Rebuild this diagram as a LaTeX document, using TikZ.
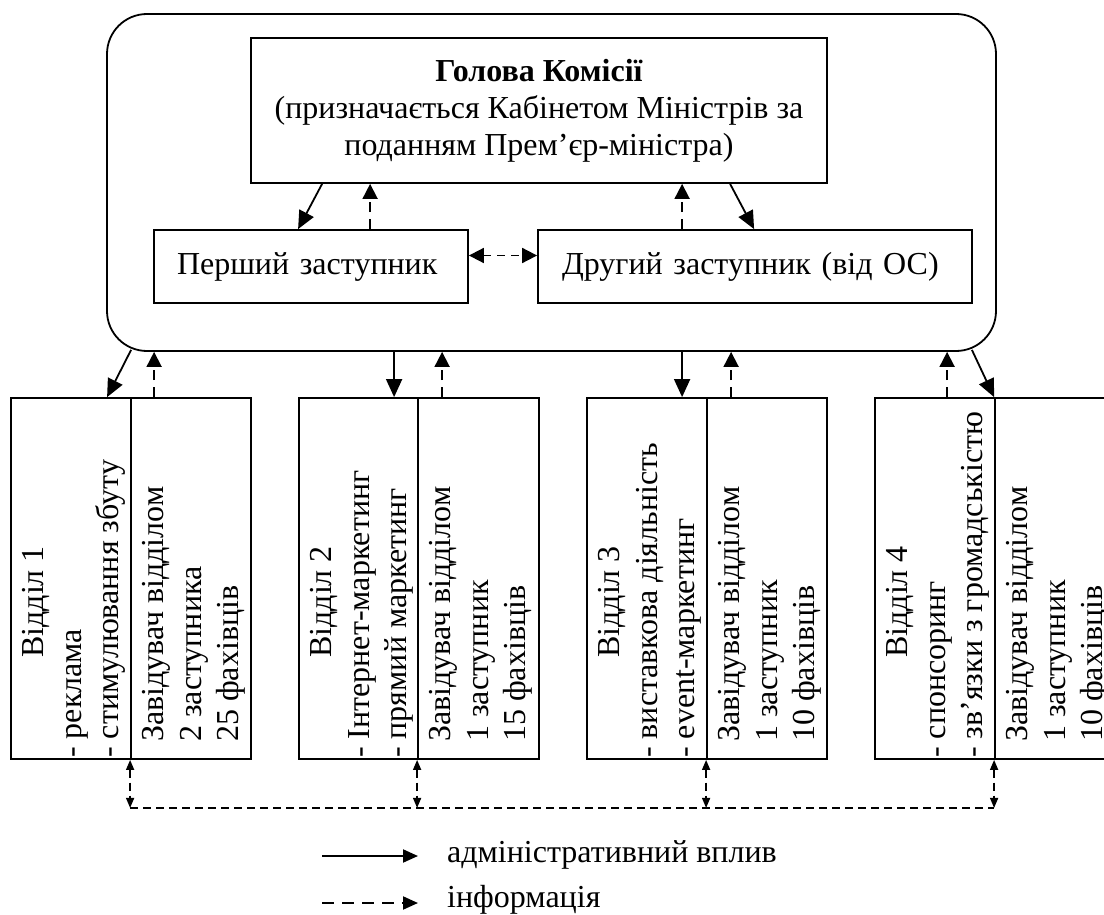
\documentclass[tikz,border=0pt]{standalone}
\usepackage{fontspec}
\setmainfont{Liberation Serif}
\usetikzlibrary{arrows.meta,calc}
\begin{document}
\begin{tikzpicture}[x=1pt,y=-1pt,font=\fontsize{32}{37}\selectfont,
  frame/.style={draw,line width=1.8pt,inner sep=0pt},
  col/.style={frame,minimum height=361pt},
  vt/.style={rotate=90,anchor=base west,inner sep=0pt},
  adm/.style={line width=1.8pt,-{Triangle[length=18pt,width=16pt]}},
  inf/.style={line width=1.8pt,dash pattern=on 10pt off 7pt,-{Triangle[length=15pt,width=15pt]}},
  infd/.style={line width=1.8pt,dash pattern=on 8pt off 6pt,{Triangle[length=15pt,width=15pt]}-{Triangle[length=15pt,width=15pt]}},
  infs/.style={line width=1.6pt,dash pattern=on 8pt off 5pt,{Triangle[length=10pt,width=8pt]}-{Triangle[length=10pt,width=8pt]}},
  infl/.style={line width=1.6pt,dash pattern=on 8pt off 5pt},
  legtext/.style={anchor=base west,inner sep=0pt}]
\clip (0,0) rectangle (1104,915);

% top block
\node[frame,rounded corners=40pt,minimum width=889pt,minimum height=337pt] (outer) at (551.5,182.5) {};
\node[frame,minimum width=576pt,minimum height=145pt,align=center] (head) at (539,110.5)
  {\textbf{Голова Комісії}\\(призначається Кабінетом Міністрів за\\поданням Прем’єр-міністра)};
\node[frame,minimum height=73pt,text width=268pt,inner xsep=23pt,align=left] (p1) at (311,266.5) {Перший заступник};
\node[frame,minimum height=73pt,text width=386pt,inner xsep=24pt,align=left] (p2) at (755,266.5) {Другий заступник (від ОС)};

\draw[adm] ($(head.south west)+(72,0)$) -- ($(p1.north west)+(145,0)$);
\draw[inf] ($(p1.north west)+(217,0)$) -- ($(head.south west)+(120,0)$);
\draw[inf] ($(p2.north west)+(145,0)$) -- ($(head.south west)+(432,0)$);
\draw[adm] ($(head.south west)+(480,0)$) -- ($(p2.north west)+(217,0)$);
\draw[infd] ($(p1.east)+(0,-11)$) -- ($(p2.west)+(0,-11)$);

% departments
\node[col,minimum width=120pt] (b1l) at (71,578.5) {};
\node[col,minimum width=120pt] (b1r) at (191,578.5) {};
\node[col,minimum width=119pt] (b2l) at (358.5,578.5) {};
\node[col,minimum width=121pt] (b2r) at (478.5,578.5) {};
\node[col,minimum width=120pt] (b3l) at (647,578.5) {};
\node[col,minimum width=120pt] (b3r) at (767,578.5) {};
\node[col,minimum width=120pt] (b4l) at (935,578.5) {};
\node[col,minimum width=120pt] (b4r) at (1055,578.5) {};

\node[vt] (t1a) at (43,658) {Відділ 1};
\node[vt] (t1b) at (81,758) {- реклама};
\node[vt] (t1c) at (118,758) {- стимулювання збуту};
\node[vt] (t1d) at (163,742) {Завідувач відділом};
\node[vt] (t1e) at (201,742) {2 заступника};
\node[vt] (t1f) at (238,742) {25 фахівців};

\node[vt] (t2a) at (331,658) {Відділ 2};
\node[vt] (t2b) at (369,758) {- Інтернет-маркетинг};
\node[vt] (t2c) at (406,758) {- прямий маркетинг};
\node[vt] (t2d) at (450,742) {Завідувач відділом};
\node[vt] (t2e) at (488,742) {1 заступник};
\node[vt] (t2f) at (525,742) {15 фахівців};

\node[vt] (t3a) at (619,658) {Відділ 3};
\node[vt] (t3b) at (657,758) {- виставкова діяльність};
\node[vt] (t3c) at (694,758) {- event-маркетинг};
\node[vt] (t3d) at (739,742) {Завідувач відділом};
\node[vt] (t3e) at (777,742) {1 заступник};
\node[vt] (t3f) at (814,742) {10 фахівців};

\node[vt] (t4a) at (907,658) {Відділ 4};
\node[vt] (t4b) at (945,758) {- спонсоринг};
\node[vt] (t4c) at (982,758) {- зв’язки з громадськістю};
\node[vt] (t4d) at (1027,742) {Завідувач відділом};
\node[vt] (t4e) at (1065,742) {1 заступник};
\node[vt] (t4f) at (1102,742) {10 фахівців};

% links outer block <-> departments
\draw[adm] ($(outer.south west)+(25,-2)$) -- ($(b1l.north west)+(97,0)$);
\draw[inf] ($(b1r.north west)+(24,0)$) -- ($(outer.south west)+(48,0)$);
\draw[adm] ($(outer.south west)+(288,0)$) -- ($(b2l.north west)+(96,0)$);
\draw[inf] ($(b2r.north west)+(25,0)$) -- ($(outer.south west)+(336,0)$);
\draw[adm] ($(outer.south west)+(576,0)$) -- ($(b3l.north west)+(96,0)$);
\draw[inf] ($(b3r.north west)+(25,0)$) -- ($(outer.south west)+(625,0)$);
\draw[inf] ($(b4l.north west)+(73,0)$) -- ($(outer.south west)+(841,0)$);
\draw[adm] ($(outer.south east)+(-25,-2)$) -- (b4r.north west);

% bottom information bus
\coordinate (h1) at ($(b1r.south west)+(0,48)$);
\coordinate (h2) at ($(b2r.south west)+(0,48)$);
\coordinate (h3) at ($(b3r.south west)+(0,48)$);
\coordinate (h4) at ($(b4r.south west)+(0,48)$);
\draw[infl] (h1) -- (h4);
\draw[infs] (b1r.south west) -- (h1);
\draw[infs] (b2r.south west) -- (h2);
\draw[infs] (b3r.south west) -- (h3);
\draw[infs] (b4r.south west) -- (h4);

% legend
\coordinate (la1) at (322,856);
\coordinate (la2) at (418,856);
\coordinate (lb1) at (322,903);
\coordinate (lb2) at (418,903);
\draw[line width=2pt,-{Triangle[length=15pt,width=13pt]}] (la1) -- (la2);
\draw[line width=2pt,dash pattern=on 12pt off 8pt,-{Triangle[length=15pt,width=13pt]}] (lb1) -- (lb2);
\node[legtext] (l1) at (447,862) {адміністративний вплив};
\node[legtext] (l2) at (447,907) {інформація};
\end{tikzpicture}
\end{document}
